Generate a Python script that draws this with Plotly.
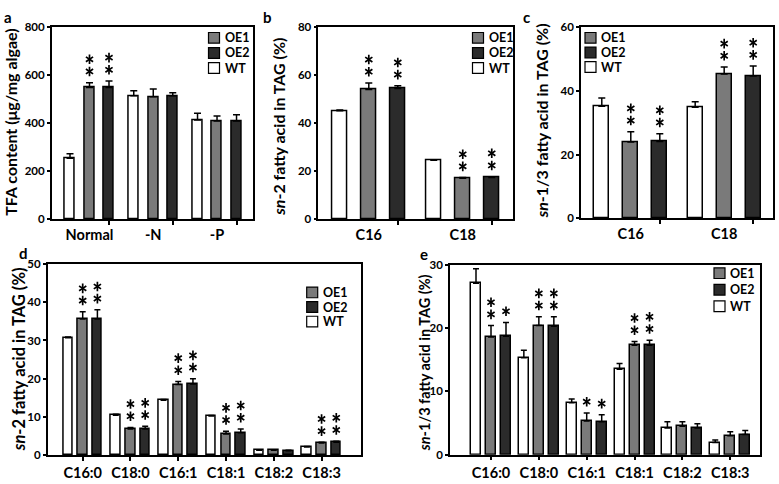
import plotly.graph_objects as go

W, H = 779, 484

# ---------------- data ----------------
series_names = ["OE1", "OE2", "WT"]

# panel a: TFA content (ug/mg algae)
a_groups = ["Normal", "-N", "-P"]
a_WT = [255, 515, 414]
a_WT_err = [18, 20, 28]
a_OE1 = [549, 510, 410]
a_OE1_err = [20, 33, 20]
a_OE2 = [549, 515, 410]
a_OE2_err = [27, 12, 25]
a_OE1_stars = [2, 0, 0]
a_OE2_stars = [2, 0, 0]
a_yticks = [0, 200, 400, 600, 800]

# panel b: sn-2 fatty acid in TAG (%)
b_groups = ["C16", "C18"]
b_WT = [45.2, 24.6]
b_WT_err = [0.3, 0.2]
b_OE1 = [54.1, 17.1]
b_OE1_err = [2.7, 0.3]
b_OE2 = [54.5, 17.4]
b_OE2_err = [1.1, 0.4]
b_OE1_stars = [2, 2]
b_OE2_stars = [2, 2]
b_yticks = [0, 20, 40, 60, 80]

# panel c: sn-1/3 fatty acid in TAG (%)
c_groups = ["C16", "C18"]
c_WT = [35.2, 34.9]
c_WT_err = [2.6, 1.7]
c_OE1 = [24.0, 45.3]
c_OE1_err = [3.2, 2.2]
c_OE2 = [24.1, 44.7]
c_OE2_err = [2.5, 3.1]
c_OE1_stars = [2, 2]
c_OE2_stars = [2, 2]
c_yticks = [0, 20, 40, 60]

# panel d: sn-2 fatty acid in TAG (%)
d_groups = ["C16:0", "C18:0", "C16:1", "C18:1", "C18:2", "C18:3"]
d_WT = [30.7, 10.5, 14.4, 10.3, 1.3, 2.2]
d_WT_err = [0.2, 0.2, 0.2, 0.1, 0.1, 0.1]
d_OE1 = [35.6, 6.9, 18.5, 5.6, 1.3, 3.2]
d_OE1_err = [1.9, 0.4, 0.8, 0.7, 0.1, 0.2]
d_OE2 = [35.6, 6.9, 18.6, 5.9, 1.2, 3.4]
d_OE2_err = [2.4, 0.7, 1.4, 1.0, 0.1, 0.3]
d_OE1_stars = [2, 2, 2, 2, 0, 2]
d_OE2_stars = [2, 2, 2, 2, 0, 2]
d_yticks = [0, 10, 20, 30, 40, 50]

# panel e: sn-1/3 fatty acid in TAG (%)
e_groups = ["C16:0", "C18:0", "C16:1", "C18:1", "C18:2", "C18:3"]
e_WT = [27.1, 15.3, 8.2, 13.5, 4.2, 1.9]
e_WT_err = [2.3, 1.2, 0.6, 0.9, 1.0, 0.4]
e_OE1 = [18.6, 20.4, 5.3, 17.3, 4.5, 3.0]
e_OE1_err = [1.8, 1.4, 1.3, 0.6, 0.7, 0.6]
e_OE2 = [18.7, 20.3, 5.2, 17.3, 4.2, 3.2]
e_OE2_err = [2.2, 1.5, 1.1, 0.8, 0.7, 0.6]
e_OE1_stars = [2, 2, 1, 2, 0, 0]
e_OE2_stars = [1, 2, 1, 2, 0, 0]
e_yticks = [0, 10, 20, 30]

# ---------------- styles / layout ----------------
FONT = "Lato"
colors = {"WT": "#ffffff", "OE1": "#7a7a7a", "OE2": "#2b2b2b"}
offsets = {"WT": -1, "OE1": 0, "OE2": 1}

panels = [
    dict(letter="a", groups=a_groups,
         vals={"WT": a_WT, "OE1": a_OE1, "OE2": a_OE2},
         errs={"WT": a_WT_err, "OE1": a_OE1_err, "OE2": a_OE2_err},
         stars={"OE1": a_OE1_stars, "OE2": a_OE2_stars},
         yticks=a_yticks, ytitle="TFA content (μg/mg algae)", tsize=16,
         px=(51.7, 252.5), py=(20.7, 218.3), unit=19.5, G=3.27, first=37.8, bw=0.51,
         cap=3.5, tick_at_oe2=True,
         title_xy=(11, 118), letter_xy=(8, 10),
         legend_xy=(208.5, 31.7), legend_dy=15.5),
    dict(letter="b", groups=b_groups,
         vals={"WT": b_WT, "OE1": b_OE1, "OE2": b_OE2},
         errs={"WT": b_WT_err, "OE1": b_OE1_err, "OE2": b_OE2_err},
         stars={"OE1": b_OE1_stars, "OE2": b_OE2_stars},
         yticks=b_yticks, ytitle="<i>sn</i>-2 fatty acid in TAG (%)", tsize=16,
         px=(318.3, 512.7), py=(20.7, 218.3), unit=29, G=3.24, first=50.5, bw=0.52,
         cap=3.5, tick_at_oe2=True,
         title_xy=(279, 123), letter_xy=(267, 10),
         legend_xy=(472.5, 31.7), legend_dy=15.5),
    dict(letter="c", groups=c_groups,
         vals={"WT": c_WT, "OE1": c_OE1, "OE2": c_OE2},
         errs={"WT": c_WT_err, "OE1": c_OE1_err, "OE2": c_OE2_err},
         stars={"OE1": c_OE1_stars, "OE2": c_OE2_stars},
         yticks=c_yticks, ytitle="<i>sn</i>-1/3 fatty acid in TAG (%)", tsize=16,
         px=(581, 772.7), py=(20.7, 217.3), unit=29, G=3.22, first=49.8, bw=0.52,
         cap=3.5, tick_at_oe2=True,
         title_xy=(541.5, 117), letter_xy=(526, 10),
         legend_xy=(585, 31.7), legend_dy=15),
    dict(letter="d", groups=d_groups,
         vals={"WT": d_WT, "OE1": d_OE1, "OE2": d_OE2},
         errs={"WT": d_WT_err, "OE1": d_OE1_err, "OE2": d_OE2_err},
         stars={"OE1": d_OE1_stars, "OE2": d_OE2_stars},
         yticks=d_yticks, ytitle="<i>sn</i>-2 fatty acid in TAG (%)", tsize=16.5,
         px=(47.7, 361), py=(264, 460.7), unit=14.7, G=3.25, first=35, bw=0.65,
         cap=3, tick_at_oe2=False,
         title_xy=(19, 362), letter_xy=(23, 253),
         legend_xy=(306.7, 293.3), legend_dy=15),
    dict(letter="e", groups=e_groups,
         vals={"WT": e_WT, "OE1": e_OE1, "OE2": e_OE2},
         errs={"WT": e_WT_err, "OE1": e_OE1_err, "OE2": e_OE2_err},
         stars={"OE1": e_OE1_stars, "OE2": e_OE2_stars},
         yticks=e_yticks, ytitle="<i>sn</i>-1/3 fatty acid in TAG (%)", tsize=14.5,
         px=(450, 760), py=(265, 460), unit=15, G=3.19, first=41, bw=0.67,
         cap=3, tick_at_oe2=False,
         title_xy=(424, 366), letter_xy=(424, 254),
         legend_xy=(714, 273.5), legend_dy=17),
]


def xp(px):
    return px / W


def yp(py):
    return 1 - py / H


fig = go.Figure()
layout = dict(width=W, height=H, margin=dict(l=0, r=0, t=0, b=0),
              paper_bgcolor="white", plot_bgcolor="white", showlegend=False,
              font=dict(family=FONT, color="black"), bargap=0)
annotations = []
shapes = []

for i, p in enumerate(panels, start=1):
    xa = "x" if i == 1 else f"x{i}"
    ya = "y" if i == 1 else f"y{i}"
    ng = len(p["groups"])
    width_px = p["px"][1] - p["px"][0]
    plot_h = p["py"][1] - p["py"][0]
    xr = [-p["first"] / p["unit"], (width_px - p["first"]) / p["unit"]]
    yrng = p["yticks"][-1]
    per_px = yrng / plot_h
    centers = [g * p["G"] for g in range(ng)]
    for s in ["WT", "OE1", "OE2"]:
        xs = [c + offsets[s] for c in centers]
        fig.add_trace(go.Bar(
            x=xs, y=p["vals"][s], width=p["bw"], xaxis=xa, yaxis=ya, name=s,
            marker=dict(color=colors[s], line=dict(color="black", width=1.5)),
            error_y=dict(type="data", array=p["errs"][s], arrayminus=[0] * ng,
                         symmetric=False, color="black", thickness=1.5, width=p["cap"]),
        ))
    # significance stars (stacked asterisk markers above the error bars)
    sx, sy = [], []
    for s in ["OE1", "OE2"]:
        for g in range(ng):
            top = p["vals"][s][g] + p["errs"][s][g]
            for k in range(p["stars"][s][g]):
                sx.append(centers[g] + offsets[s])
                sy.append(top + (11.5 + 12.5 * k) * per_px)
    if sx:
        for sym in ["y-up-open", "y-down-open"]:
            fig.add_trace(go.Scatter(
                x=sx, y=sy, mode="markers", xaxis=xa, yaxis=ya, hoverinfo="skip",
                marker=dict(symbol=sym, size=6, color="black",
                            line=dict(color="black", width=1.7))))

    xaxis = dict(domain=[xp(p["px"][0]), xp(p["px"][1])], range=xr, anchor=ya,
                 showline=True, linecolor="black", linewidth=1.5, mirror=True,
                 showgrid=False, zeroline=False, tickmode="array",
                 tickvals=centers, ticktext=p["groups"],
                 ticks="outside", ticklen=4, tickwidth=1.5,
                 tickfont=dict(family=FONT, size=14.5, weight="bold", color="black"))
    if p["tick_at_oe2"]:
        xaxis["tickcolor"] = "rgba(0,0,0,0)"
        xaxis["ticklen"] = 1
        xaxis["minor"] = dict(tickmode="array", tickvals=[c + 1 for c in centers],
                              ticks="outside", ticklen=4, tickwidth=1.5, tickcolor="black")
    else:
        xaxis["tickcolor"] = "black"
    yaxis = dict(domain=[yp(p["py"][1]), yp(p["py"][0])], range=[0, yrng], anchor=xa,
                 showline=True, linecolor="black", linewidth=1.5, mirror=True,
                 showgrid=False, zeroline=False, tickmode="array", tickvals=p["yticks"],
                 ticks="outside", ticklen=3, tickwidth=1.5, tickcolor="black",
                 tickfont=dict(family=FONT, size=11.5, weight="bold", color="black"))
    layout["xaxis" if i == 1 else f"xaxis{i}"] = xaxis
    layout["yaxis" if i == 1 else f"yaxis{i}"] = yaxis

    # y title
    annotations.append(dict(
        x=xp(p["title_xy"][0]), y=yp(p["title_xy"][1]), xref="paper", yref="paper",
        text=p["ytitle"], textangle=-90, showarrow=False, xanchor="center", yanchor="middle",
        font=dict(family=FONT, size=p["tsize"], weight="bold", color="black")))
    # panel letter
    annotations.append(dict(
        x=xp(p["letter_xy"][0]), y=yp(p["letter_xy"][1]), xref="paper", yref="paper",
        text=p["letter"], showarrow=False, xanchor="center", yanchor="middle",
        font=dict(family=FONT, size=15, weight="bold", color="black")))
    # legend (manual)
    lx, ly = p["legend_xy"]
    for j, s in enumerate(series_names):
        cy = ly + j * p["legend_dy"]
        shapes.append(dict(type="rect", xref="paper", yref="paper",
                           x0=xp(lx), x1=xp(lx + 11), y0=yp(cy + 5.5), y1=yp(cy - 5.5),
                           fillcolor=colors[s], line=dict(color="black", width=1.2)))
        annotations.append(dict(
            x=xp(lx + 14), y=yp(cy), xref="paper", yref="paper", text=s,
            showarrow=False, xanchor="left", yanchor="middle",
            font=dict(family=FONT, size=12.5, weight="bold", color="black")))

layout["annotations"] = annotations
layout["shapes"] = shapes
fig.update_layout(**layout)
fig.write_html("out.html", config={"displayModeBar": False},
               post_script="document.body.style.margin='0px';document.body.style.padding='0px';")
